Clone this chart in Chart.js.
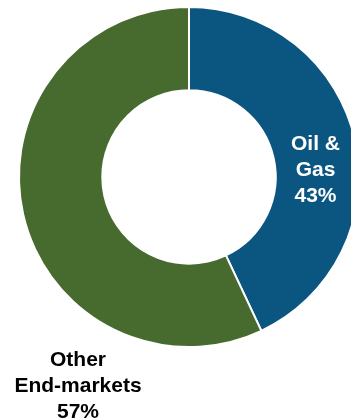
<!DOCTYPE html>
<html>
<head>
<meta charset="utf-8">
<script src="https://cdn.jsdelivr.net/npm/chart.js@4/dist/chart.umd.min.js"></script>
<style>
  html, body { margin: 0; padding: 0; background: #ffffff; overflow: hidden; }
  #wrap { position: relative; width: 420px; height: 420px; }
</style>
</head>
<body>
<div id="wrap"><canvas id="c"></canvas></div>
<script>
// Data
const categories = ['Oil & Gas', 'Other End-markets'];
const labelLines = [['Oil &', 'Gas'], ['Other', 'End-markets']];
const shares = [43, 57];
const colors = ['#0b5581', '#476b2e'];
const labelColors = ['#ffffff', '#000000'];

// label anchor as fraction of outer radius (dx, dy) relative to center
const labelAnchors = [[0.744, -0.041], [-0.653, 1.229]];

const labelPlugin = {
  id: 'sliceLabels',
  afterDraw(chart) {
    const ctx = chart.ctx;
    const meta = chart.getDatasetMeta(0);
    ctx.save();
    ctx.font = 'bold 21px "Liberation Sans", Arial, sans-serif';
    ctx.textAlign = 'center';
    ctx.textBaseline = 'middle';
    const lh = 26;
    meta.data.forEach((arc, i) => {
      const R = arc.outerRadius;
      const cx = arc.x + labelAnchors[i][0] * R;
      const cy = arc.y + labelAnchors[i][1] * R;
      const lines = labelLines[i].concat([shares[i] + '%']);
      ctx.fillStyle = labelColors[i];
      const y0 = cy - (lines.length - 1) * lh / 2;
      lines.forEach((t, k) => ctx.fillText(t, cx, y0 + k * lh));
    });
    ctx.restore();
  }
};

new Chart(document.getElementById('c'), {
  type: 'doughnut',
  data: {
    labels: categories,
    datasets: [{
      data: shares,
      backgroundColor: colors,
      borderColor: '#ffffff',
      borderWidth: 2,
      hoverOffset: 0
    }]
  },
  options: {
    responsive: true,
    maintainAspectRatio: false,
    animation: false,
    cutout: '51%',
    rotation: 0,
    layout: { padding: { left: 18, top: 6, right: 60, bottom: 72 } },
    plugins: {
      legend: { display: false },
      tooltip: { enabled: false }
    },
    events: []
  },
  plugins: [labelPlugin]
});
</script>
</body>
</html>
